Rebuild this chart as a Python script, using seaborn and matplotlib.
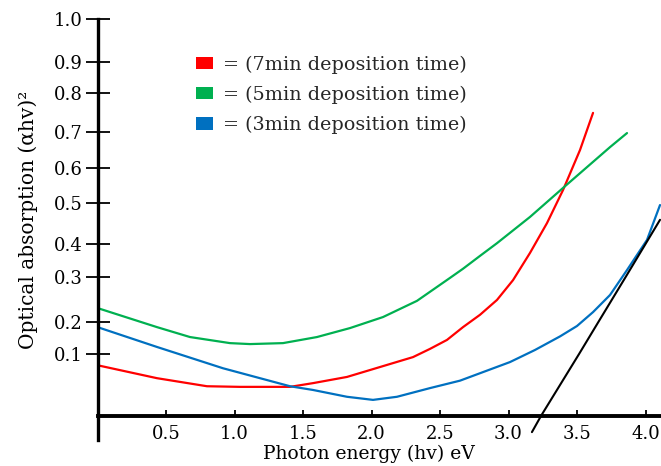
import numpy as np
import pandas as pd
import matplotlib
matplotlib.use("Agg")
import matplotlib.pyplot as plt
import seaborn as sns
from matplotlib.patches import Patch

# ---------------- data ----------------
hv_7 = [0.018, 0.434, 0.799, 1.04, 1.405, 1.573, 1.821, 2.062, 2.303, 2.427, 2.551,
        2.668, 2.792, 2.916, 3.033, 3.157, 3.281, 3.398, 3.522, 3.617]
abs_7 = [0.081, 0.061, 0.048, 0.047, 0.047, 0.053, 0.063, 0.079, 0.095, 0.116, 0.144,
         0.184, 0.216, 0.249, 0.293, 0.373, 0.451, 0.537, 0.65, 0.749]

hv_5 = [0.0, 0.434, 0.675, 0.967, 1.113, 1.354, 1.602, 1.843, 2.084, 2.332, 2.573,
        2.668, 2.792, 2.916, 3.157, 3.398, 3.617, 3.741, 3.865]
abs_5 = [0.231, 0.184, 0.153, 0.134, 0.131, 0.134, 0.153, 0.181, 0.211, 0.247, 0.298,
         0.325, 0.364, 0.402, 0.466, 0.543, 0.617, 0.658, 0.697]

hv_3 = [0.0, 0.434, 0.916, 1.405, 1.573, 1.821, 2.011, 2.186, 2.427, 2.646, 2.792,
        3.011, 3.193, 3.376, 3.5, 3.617, 3.741, 3.865, 4.011, 4.106]
abs_3 = [0.184, 0.122, 0.077, 0.048, 0.042, 0.031, 0.026, 0.031, 0.045, 0.057, 0.069,
         0.087, 0.1125, 0.155, 0.1875, 0.222, 0.26, 0.321, 0.41, 0.495]

hv_fit = [3.171, 3.237, 3.515, 3.656, 3.855, 4.0, 4.106]
abs_fit = [-0.026, 0.0, 0.1, 0.2, 0.3, 0.4, 0.459]

series_labels = ["= (7min deposition time)", "= (5min deposition time)",
                 "= (3min deposition time)"]
series_colors = ["#FF0000", "#00B050", "#0070C0"]

x_ticks = [0.5, 1.0, 1.5, 2.0, 2.5, 3.0, 3.5, 4.0]
y_ticks = [0.1, 0.2, 0.3, 0.4, 0.5, 0.6, 0.7, 0.8, 0.9, 1.0]

# ---------------- hand-drawn (irregular) y axis spacing ----------------
knot_vals = [-0.2, 0.0, 0.1, 0.2, 0.3, 0.4, 0.5, 0.6, 0.7, 0.8, 0.9, 1.0, 1.2]
knot_px = [540, 416, 354, 322, 277, 244, 203, 168, 132, 93, 62, 18.5, -68.5]
knot_pos = [466 - p for p in knot_px]


def fwd(v):
    return np.interp(v, knot_vals, knot_pos)


def inv(p):
    return np.interp(p, knot_pos, knot_vals)


df = pd.concat([
    pd.DataFrame({"hv": hv_7, "abs": abs_7, "series": series_labels[0]}),
    pd.DataFrame({"hv": hv_5, "abs": abs_5, "series": series_labels[1]}),
    pd.DataFrame({"hv": hv_3, "abs": abs_3, "series": series_labels[2]}),
], ignore_index=True)
fit_df = pd.DataFrame({"hv": hv_fit, "abs": abs_fit})

sns.set_style("white")
plt.rcParams["font.family"] = ["DejaVu Serif"]

W, H = 661, 466
fig = plt.figure(figsize=(W / 100, H / 100), dpi=100)
ax = fig.add_axes([97.5 / W, (H - 440) / H, (W - 97.5) / W, (440 - 18.5) / H])

sns.lineplot(data=df, x="hv", y="abs", hue="series", hue_order=series_labels,
             palette=series_colors, estimator=None, sort=False, legend=False,
             linewidth=1.6, ax=ax)
sns.lineplot(data=fit_df, x="hv", y="abs", color="black", estimator=None,
             sort=False, linewidth=1.5, ax=ax)
for ln in ax.lines:
    ln.set_solid_joinstyle("round")

ax.set_yscale("function", functions=(fwd, inv))
ax.set_xlim(0, (W - 97.5) / 137.0)
ax.set_ylim(-(440 - 416) / 62 * 0.1, 1.0)

ax.set_xticks(x_ticks)
ax.set_xticklabels([f"{t:.1f}" for t in x_ticks])
ax.set_yticks(y_ticks)
ax.set_yticklabels([f"{t:.1f}" for t in y_ticks])
ax.yaxis.set_minor_locator(matplotlib.ticker.NullLocator())
ax.xaxis.set_minor_locator(matplotlib.ticker.NullLocator())

for s in ["top", "right"]:
    ax.spines[s].set_visible(False)
ax.spines["left"].set_linewidth(2.4)
ax.spines["left"].set_color("black")
ax.spines["bottom"].set_position(("data", 0))
ax.spines["bottom"].set_linewidth(2.8)
ax.spines["bottom"].set_color("black")

ax.tick_params(axis="y", direction="inout", length=17, width=1.3, pad=2,
               labelsize=13, colors="black", left=True)
ax.tick_params(axis="x", direction="in", length=4.5, width=1.3, pad=6.5,
               labelsize=13, colors="black", bottom=True)

ax.set_xlabel("Photon energy (hv) eV", fontsize=13.5, color="black")
ax.xaxis.set_label_coords(0.481, -0.012)
ax.set_ylabel("Optical absorption (αhv)²", fontsize=14.5, color="black")
ax.yaxis.set_label_coords(-0.106, 0.522)

handles = [Patch(facecolor=c, edgecolor="none") for c in series_colors]
ax.legend(handles, series_labels, loc="upper left",
          bbox_to_anchor=(196 / W, 1 - 55.5 / H), bbox_transform=fig.transFigure,
          frameon=False, borderpad=0, borderaxespad=0, fontsize=13.8,
          handlelength=0.87, handleheight=0.63, handletextpad=0.55,
          labelspacing=0.62)

fig.savefig("out.png", dpi=100)
